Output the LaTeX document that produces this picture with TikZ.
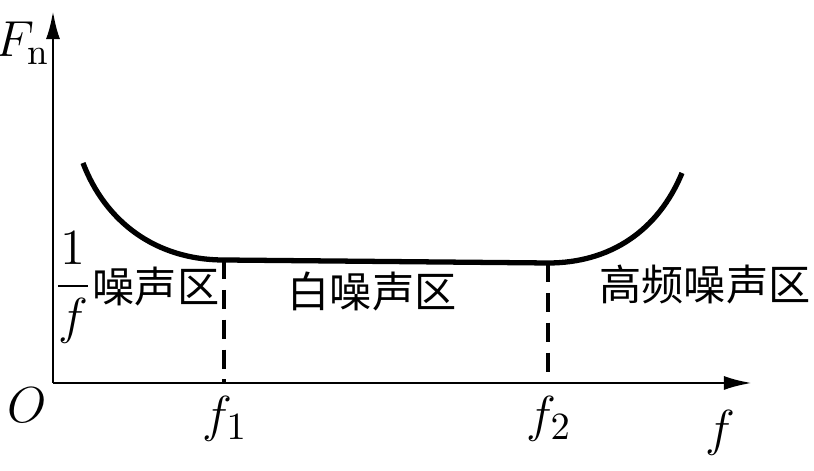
\documentclass[tikz,border=0pt]{standalone}
\usepackage{amsmath}
\usepackage{fontspec}
\newfontfamily\cjk{Noto Sans CJK SC}
\usetikzlibrary{arrows.meta}

\begin{document}
\begin{tikzpicture}[
  axis/.style={line width=0.8pt, -{Latex[length=8pt,width=4pt]}},
  curve/.style={line width=1.5pt},
  guide/.style={line width=0.9pt, dash pattern=on 5.5pt off 3pt},
  lbl/.style={inner sep=0pt, font=\fontsize{15}{17}\selectfont},
  zone/.style={inner sep=0pt, font=\cjk\fontsize{12}{14}\selectfont}]
\useasboundingbox (0,0) rectangle (8.14,4.71);
% axes
\coordinate (O) at (0.53,0.88);
\coordinate (ytop) at (0.53,4.60);
\coordinate (xend) at (7.52,0.88);
\draw [axis] (O) -- (ytop);
\draw [axis] (O) -- (xend);
% noise curve
\coordinate (c0) at (0.83,3.08);
\coordinate (c1) at (2.24,2.11);
\coordinate (c2) at (5.48,2.08);
\coordinate (c3) at (6.82,2.98);
\coordinate (b1) at (2.24,0.88);
\coordinate (b2) at (5.48,0.88);
\draw [curve] (c0) .. controls (1.05,2.50) and (1.55,2.11) .. (c1)
  -- (c2) .. controls (6.10,2.08) and (6.58,2.40) .. (c3);
\draw [guide] (c1) -- (b1);
\draw [guide] (c2) -- (b2);
% labels
\node [lbl] (Fn) at (0.23,4.28) {$F_{\mathrm{n}}$};
\node [lbl] (O0) at (0.27,0.66) {$O$};
\node [lbl] (f1) at (2.25,0.52) {$f_1$};
\node [lbl] (f2) at (5.49,0.52) {$f_2$};
\node [lbl] (fx) at (7.20,0.38) {$f$};
\node [lbl] (frac) at (0.73,1.83) {$\dfrac{1}{f}$};
\node [zone] (z1) at (1.56,1.84) {噪声区};
\node [zone] (z2) at (3.72,1.79) {白噪声区};
\node [zone] (z3) at (7.05,1.86) {高频噪声区};
\end{tikzpicture}
\end{document}
